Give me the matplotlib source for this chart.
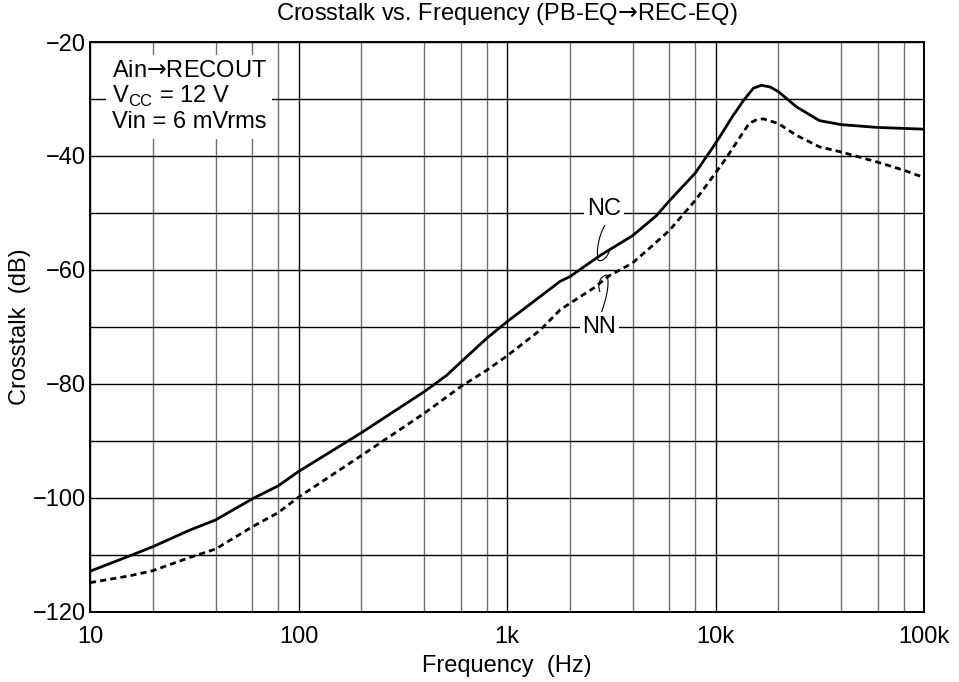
import matplotlib.pyplot as plt
from matplotlib.path import Path
from matplotlib.patches import PathPatch
from matplotlib.ticker import FixedLocator, NullFormatter

plt.rcParams['font.family'] = ['Liberation Sans', 'DejaVu Sans']
plt.rcParams['mathtext.fontset'] = 'custom'
plt.rcParams['mathtext.rm'] = 'Liberation Sans'
plt.rcParams['mathtext.sf'] = 'DejaVu Sans'

# Данi, зчитанi з графiка
freq_nc = [10, 15.5, 20, 30, 40, 60, 80, 100, 200, 400, 452, 514, 600, 800,
           1000, 1440, 1800, 2000, 2790, 4000, 5200, 6000, 8000, 10000, 10500,
           12000, 13600, 15200, 16600, 18300, 20000, 24500, 31500, 40000,
           60000, 100000]
nc_db = [-112.9, -110.2, -108.6, -105.7, -103.9, -100.2, -97.9, -95.4, -88.6,
         -81.4, -80.0, -78.5, -76.2, -72.0, -69.1, -64.7, -62.0, -61.2, -57.5,
         -54.0, -50.5, -47.9, -43.0, -37.8, -36.6, -33.2, -30.3, -28.1, -27.6,
         -27.9, -28.7, -31.4, -33.8, -34.5, -35.0, -35.3]

freq_nn = [10, 15.5, 20, 30, 40, 60, 80, 100, 200, 400, 600, 800, 1000, 1440,
           1800, 2000, 2600, 3100, 4000, 5000, 6000, 8000, 10000, 11200, 13100,
           14500, 15800, 17000, 20000, 24500, 31500, 40000, 60000, 80000,
           100000]
nn_db = [-114.9, -113.7, -112.8, -110.5, -109.0, -105.1, -102.6, -99.9, -92.6,
         -85.2, -80.5, -77.6, -75.1, -70.6, -67.0, -65.9, -63.2, -61.0, -58.8,
         -55.7, -53.1, -47.8, -43.0, -40.5, -36.7, -34.3, -33.6, -33.5, -34.3,
         -36.4, -38.4, -39.3, -41.1, -42.5, -43.8]

x_ticks = [10, 100, 1000, 10000, 100000]
x_labels = ['10', '100', '1k', '10k', '100k']
y_ticks = [-20, -40, -60, -80, -100, -120]

FS = 17
ARROW = '$\\mathsf{\u2192}$'

fig = plt.figure(figsize=(9.59, 6.82), dpi=100)
ax = fig.add_axes([90 / 959, 70.3 / 682, 834 / 959, 569.7 / 682])

ax.set_xscale('log')
ax.set_xlim(10, 100000)
ax.set_ylim(-120, -20)

ax.set_xticks(x_ticks)
ax.set_xticklabels(x_labels)
minors = [m * d for d in [10, 100, 1000, 10000] for m in [2, 4, 6, 8]]
ax.xaxis.set_minor_locator(FixedLocator(minors))
ax.xaxis.set_minor_formatter(NullFormatter())
ax.set_yticks(y_ticks)
ax.yaxis.set_minor_locator(FixedLocator(list(range(-110, -20, 20))))

ax.grid(True, which='major', color='black', lw=1.0)
ax.grid(True, which='minor', axis='x', color='#707070', lw=1.0)
ax.grid(True, which='minor', axis='y', color='black', lw=1.0)
ax.tick_params(which='both', length=0, labelsize=FS)
ax.tick_params(axis='x', pad=10)
ax.tick_params(axis='y', pad=3)
for s in ax.spines.values():
    s.set_linewidth(1.4)

ax.plot(freq_nc, nc_db, color='black', lw=2.0, zorder=4)
ax.plot(freq_nn, nn_db, color='black', lw=2.0, ls=(0, (2.2, 1.5)), zorder=4)

ax.set_title('Crosstalk vs. Frequency (PB-EQ' + ARROW + 'REC-EQ)',
             fontsize=FS, pad=16)
ax.set_xlabel('Frequency  (Hz)', fontsize=FS, labelpad=5)
ax.set_ylabel('Crosstalk  (dB)', fontsize=FS, labelpad=1)

# блок з умовами вимiрювання
ax.text(0.026, 0.968,
        'Ain' + ARROW + 'RECOUT\nV$_{\\mathrm{CC}}$ = 12 V\nVin = 6 mVrms',
        transform=ax.transAxes, fontsize=FS, va='top', ha='left',
        linespacing=1.1, zorder=5,
        bbox=dict(fc='white', ec='none', pad=4))

# пiдписи кривих
def px(x, y):
    return ((x - 90) / 834, (611.7 - y) / 569.7)

ax.text(*px(604, 209), 'NC', transform=ax.transAxes, fontsize=FS,
        ha='center', va='center', zorder=5,
        bbox=dict(fc='white', ec='none', pad=2))
ax.text(*px(599.5, 327), 'NN', transform=ax.transAxes, fontsize=FS,
        ha='center', va='center', zorder=5,
        bbox=dict(fc='white', ec='none', pad=2))

nc_lead = [px(605, 225), px(599, 235), px(596, 250), px(598, 260),
           px(602, 263), px(609, 256), px(610, 248)]
nn_lead = [px(601.5, 312), px(606, 300), px(610, 284), px(607, 275),
           px(600, 276), px(597, 284), px(600, 292)]
for pts in (nc_lead, nn_lead):
    codes = [Path.MOVETO] + [Path.CURVE4] * 6
    ax.add_patch(PathPatch(Path(pts, codes), transform=ax.transAxes,
                           fc='none', ec='black', lw=0.8, zorder=6))

fig.savefig('out.png', dpi=100)
